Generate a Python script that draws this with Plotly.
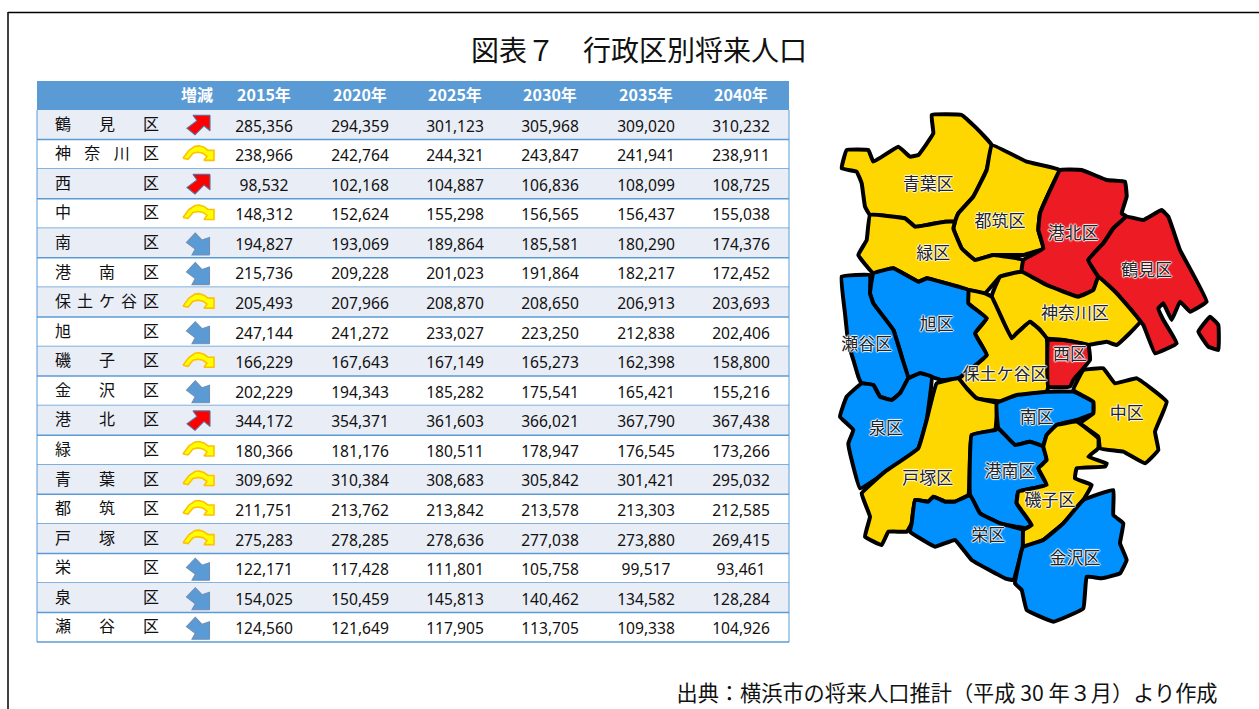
import plotly.graph_objects as go

# ---------- table data ----------
years = ["2015年", "2020年", "2025年", "2030年", "2035年", "2040年"]
wards = ["鶴見", "神奈川", "西", "中", "南", "港南", "保土ケ谷", "旭", "磯子", "金沢",
         "港北", "緑", "青葉", "都筑", "戸塚", "栄", "泉", "瀬谷"]
trend = ["up", "flat", "up", "flat", "down", "down", "flat", "down", "flat", "down",
         "up", "flat", "flat", "flat", "flat", "down", "down", "down"]
pop2015 = [285356, 238966, 98532, 148312, 194827, 215736, 205493, 247144, 166229, 202229,
           344172, 180366, 309692, 211751, 275283, 122171, 154025, 124560]
pop2020 = [294359, 242764, 102168, 152624, 193069, 209228, 207966, 241272, 167643, 194343,
           354371, 181176, 310384, 213762, 278285, 117428, 150459, 121649]
pop2025 = [301123, 244321, 104887, 155298, 189864, 201023, 208870, 233027, 167149, 185282,
           361603, 180511, 308683, 213842, 278636, 111801, 145813, 117905]
pop2030 = [305968, 243847, 106836, 156565, 185581, 191864, 208650, 223250, 165273, 175541,
           366021, 178947, 305842, 213578, 277038, 105758, 140462, 113705]
pop2035 = [309020, 241941, 108099, 156437, 180290, 182217, 206913, 212838, 162398, 165421,
           367790, 176545, 301421, 213303, 273880, 99517, 134582, 109338]
pop2040 = [310232, 238911, 108725, 155038, 174376, 172452, 203693, 202406, 158800, 155216,
           367438, 173266, 295032, 212585, 269415, 93461, 128284, 104926]
columns = [pop2015, pop2020, pop2025, pop2030, pop2035, pop2040]

# ---------- map data: outlines (map units) ----------
aoba = [(305,45),(395,45),(440,85),(485,135),(470,210),(430,290),(385,340),(375,365),(345,365),(290,375),(255,380),(225,355),(120,345),(105,320),(95,250),(80,215),(35,205),(50,150),(115,150),(130,185),(205,140),(240,170),(265,165),(310,100)]
tsuzuki = [(485,135),(590,185),(690,210),(670,250),(630,340),(625,390),(640,445),(580,465),(490,465),(435,480),(395,445),(370,385),(375,365),(385,340),(430,290),(470,210)]
midori = [(120,345),(225,355),(255,380),(290,375),(345,365),(375,365),(370,385),(395,445),(435,480),(490,465),(580,480),(575,515),(510,530),(465,580),(415,570),(330,545),(290,535),(265,545),(190,505),(130,520),(85,465),(110,420)]
kohoku = [(690,210),(755,210),(830,240),(885,245),(890,290),(875,340),(890,350),(850,385),(820,430),(775,480),(805,530),(790,570),(745,590),(650,555),(575,515),(580,480),(640,445),(625,390),(630,340),(670,250)]
tsurumi = [(890,350),(940,360),(995,330),(1015,350),(1050,450),(1130,605),(1080,635),(1050,605),(1025,660),(1000,610),(985,625),(1000,660),(1040,730),(975,760),(940,675),(860,580),(805,530),(775,480),(820,430),(850,385)]
tsurumi_isle = [(1140,650),(1165,675),(1165,750),(1135,740),(1105,695)]
kanagawa = [(575,515),(650,555),(745,590),(790,570),(805,530),(860,580),(930,665),(860,735),(830,725),(775,735),(700,720),(650,715),(630,690),(600,665),(560,700),(545,715),(485,590),(510,530)]
hodogaya = [(415,570),(465,580),(485,590),(545,715),(560,700),(600,665),(630,690),(650,715),(655,860),(650,875),(520,905),(440,895),(410,865),(385,835),(470,765),(435,700),(470,655),(415,610)]
asahi = [(130,520),(190,505),(265,545),(290,535),(330,545),(415,570),(415,610),(470,655),(435,700),(470,765),(385,835),(335,840),(270,820),(235,835),(215,770),(190,690),(130,610),(120,580)]
seya = [(35,530),(120,525),(120,580),(130,610),(190,690),(215,770),(235,835),(210,880),(185,900),(150,890),(130,855),(95,850),(85,830),(70,780),(55,730),(45,640)]
izumi = [(95,850),(130,855),(150,890),(185,900),(210,880),(235,835),(270,820),(305,830),(290,960),(265,1045),(170,1115),(90,1165),(65,1080),(55,1030),(70,990),(30,950),(50,890)]
totsuka = [(320,850),(385,835),(410,865),(440,895),(500,910),(495,990),(425,1005),(415,1185),(375,1205),(345,1205),(310,1190),(295,1205),(255,1200),(245,1270),(230,1295),(175,1295),(155,1335),(105,1310),(120,1250),(95,1180),(165,1115),(265,1045),(290,960)]
minami = [(500,910),(560,885),(650,875),(730,875),(790,905),(790,940),(740,960),(680,975),(650,1005),(640,1040),(600,1025),(555,1035),(505,985)]
naka = [(730,870),(760,810),(820,805),(855,850),(920,835),(1010,905),(975,995),(985,1050),(945,1090),(880,1055),(810,1045),(805,1010),(750,970),(790,940),(790,905)]
nishi = [(655,720),(700,720),(775,735),(780,780),(730,840),(720,860),(655,860)]
isogo = [(650,1005),(680,975),(740,965),(805,1015),(805,1045),(775,1070),(830,1090),(825,1100),(740,1105),(735,1135),(785,1155),(760,1200),(700,1270),(640,1320),(580,1340),(580,1290),(605,1275),(560,1210),(565,1175),(650,1155),(625,1105),(650,1080),(640,1040)]
konan = [(505,985),(555,1035),(600,1025),(640,1040),(650,1080),(625,1105),(650,1155),(565,1175),(560,1210),(605,1275),(590,1285),(510,1270),(450,1240),(420,1185),(425,1005),(495,990)]
sakae = [(255,1200),(295,1205),(310,1190),(345,1205),(375,1205),(420,1185),(450,1240),(510,1270),(578,1290),(578,1340),(550,1440),(525,1435),(425,1380),(375,1320),(315,1340),(240,1295),(245,1270)]
kanazawa = [(580,1340),(640,1320),(700,1270),(760,1200),(850,1170),(850,1245),(880,1270),(870,1330),(890,1380),(870,1420),(815,1435),(770,1430),(760,1525),(670,1565),(590,1530),(575,1470),(555,1450),(575,1350)]

map_regions = [
    ("青葉区", aoba, "yellow"), ("都筑区", tsuzuki, "yellow"), ("緑区", midori, "yellow"),
    ("港北区", kohoku, "red"), ("鶴見区", tsurumi, "red"), ("鶴見区", tsurumi_isle, "red"),
    ("神奈川区", kanagawa, "yellow"), ("保土ケ谷区", hodogaya, "yellow"), ("旭区", asahi, "blue"),
    ("瀬谷区", seya, "blue"), ("泉区", izumi, "blue"), ("戸塚区", totsuka, "yellow"),
    ("南区", minami, "blue"), ("中区", naka, "yellow"), ("西区", nishi, "red"),
    ("港南区", konan, "blue"), ("栄区", sakae, "blue"), ("磯子区", isogo, "yellow"),
    ("金沢区", kanazawa, "blue"),
]
label_names = ["青葉区", "都筑区", "緑区", "港北区", "鶴見区", "神奈川区", "旭区", "瀬谷区", "西区",
               "保土ケ谷区", "南区", "中区", "泉区", "港南区", "戸塚区", "磯子区", "栄区", "金沢区"]
label_x = [295, 510, 310, 730, 950, 735, 320, 110, 720, 525, 620, 890, 168, 540, 293, 660, 475, 735]
label_y = [250, 362, 458, 398, 508, 637, 672, 732, 760, 820, 950, 938, 982, 1112, 1134, 1200, 1305, 1373]

# ---------- styles / layout constants ----------
MAP_COL = {"yellow": "#FFD700", "red": "#ED1C24", "blue": "#0091FF"}
JP = "Noto Sans CJK JP"
NUM = "Noto Sans"
W, H = 1259, 709
T_L, T_R, H_TOP, R_TOP, R_H = 37, 789, 81, 110, 29.56
YEAR_X = [264, 360, 455, 550, 646, 741]
TREND_X = 198
NAME_L, NAME_R = 63, 151

ARROW_UP = [(12,-10.5),(12,5),(6,0),(-3,9),(-11,2.5),(-1,-5),(-5,-10.5)]
ARROW_DOWN = [(11.5,11),(-6,11),(-2.7,5),(-11.5,-1.7),(-2.7,-11),(4,-4),(11.5,-6.5)]
ARROW_FLAT = [(-15,3),(-9,-5),(-3,-9),(1,-9.5),(6,-8),(10,-5),(16,-5),(16,5),(6,5),(9,1),(5,-2),(0,-3),(-5,-2),(-10,4)]
ARROW_STYLE = {"up": (ARROW_UP, "#FF0000", "#5B6F9E", 1.1),
               "flat": (ARROW_FLAT, "#FFFF00", "#FFC000", 1.6),
               "down": (ARROW_DOWN, "#5B9BD5", "#6F8FB8", 1.1)}

fig = go.Figure()
row_c = [R_TOP + R_H * (i + 0.5) for i in range(len(wards))]

# table grid
shapes = [dict(type="rect", xref="x", yref="y", x0=T_L, x1=T_R, y0=H_TOP, y1=R_TOP,
               fillcolor="#5B9BD5", line_width=0, layer="below")]
for i in range(len(wards)):
    y0, y1 = R_TOP + R_H * i, R_TOP + R_H * (i + 1)
    if i % 2 == 0:
        shapes.append(dict(type="rect", xref="x", yref="y", x0=T_L, x1=T_R, y0=y0, y1=y1,
                           fillcolor="#E9EDF6", line_width=0, layer="below"))
    shapes.append(dict(type="line", xref="x", yref="y", x0=T_L, x1=T_R, y0=y1, y1=y1,
                       line=dict(color="#5B9BD5", width=1.5), layer="below"))
for xv in (T_L, T_R):
    shapes.append(dict(type="line", xref="x", yref="y", x0=xv, x1=xv, y0=R_TOP, y1=R_TOP + R_H * len(wards),
                       line=dict(color="#5B9BD5", width=1), layer="below"))
# page frame
shapes.append(dict(type="line", xref="x", yref="y", x0=8, x1=W, y0=12.5, y1=12.5, line=dict(color="#000", width=1.5)))
shapes.append(dict(type="line", xref="x", yref="y", x0=8, x1=8, y0=12, y1=H, line=dict(color="#000", width=1.5)))


def text_trace(x, y, text, size, color="#111111", family=JP, xa="x", ya="y", **kw):
    return go.Scatter(x=x, y=y, text=text, mode="text", xaxis=xa, yaxis=ya, cliponaxis=False,
                      textposition="middle center", hoverinfo="skip", showlegend=False,
                      textfont=dict(size=size, color=color, family=family, **kw))


# header
fig.add_trace(text_trace([TREND_X - 1] + YEAR_X, [96.5] * 7, ["<b>増減</b>"] + [f"<b>{y}</b>" for y in years],
                         16, color="#FFFFFF"))
# ward names, spread across the first column
nx, ny, nt = [], [], []
for name, yc in zip(wards, row_c):
    chars = name + "区"
    step = (NAME_R - NAME_L) / (len(chars) - 1)
    for k, ch in enumerate(chars):
        nx.append(NAME_L + step * k)
        ny.append(yc + 1)
        nt.append(ch)
fig.add_trace(text_trace(nx, ny, nt, 16))
# numbers
for xc, vals in zip(YEAR_X, columns):
    fig.add_trace(text_trace([xc] * len(vals), [yc + 3 for yc in row_c], [f"{v:,}" for v in vals], 15.6, family=NUM))
# arrows
for key, (poly, fill, line, lw) in ARROW_STYLE.items():
    xs, ys = [], []
    for t, yc in zip(trend, row_c):
        if t == key:
            xs += [TREND_X + p[0] for p in poly] + [TREND_X + poly[0][0], None]
            ys += [yc + 1 + p[1] for p in poly] + [yc + 1 + poly[0][1], None]
    fig.add_trace(go.Scatter(x=xs, y=ys, mode="lines", fill="toself", fillcolor=fill,
                             line=dict(color=line, width=lw), hoverinfo="skip", showlegend=False))

# map
for name, pts, col in map_regions:
    xs = [p[0] for p in pts] + [pts[0][0]]
    ys = [p[1] for p in pts] + [pts[0][1]]
    fig.add_trace(go.Scatter(x=xs, y=ys, xaxis="x2", yaxis="y2", mode="lines", fill="toself",
                             fillcolor=MAP_COL[col], line=dict(color="#000", width=4, shape="spline", smoothing=0.25),
                             name=name, hoverinfo="name", showlegend=False))
halo = ",".join(f"{a}px {b}px 1px #fff" for a, b in [(1,0),(-1,0),(0,1),(0,-1)])
fig.add_trace(text_trace(label_x, [v + 6 for v in label_y], label_names, 17, color="#222222", xa="x2", ya="y2", shadow=halo))

# title and source
fig.add_trace(text_trace([639], [53.5], ["図表７　行政区別将来人口"], 28, color="#111111"))
fig.add_trace(text_trace([947], [696], ["出典：横浜市の将来人口推計（平成 30 年３月）より作成"], 21.2, color="#111111"))

fig.update_layout(
    width=W, height=H, margin=dict(l=0, r=0, t=0, b=0), paper_bgcolor="#FFFFFF", plot_bgcolor="rgba(0,0,0,0)",
    showlegend=False, shapes=shapes,
    xaxis=dict(range=[0, W], domain=[0, 1], visible=False, fixedrange=True),
    yaxis=dict(range=[H, 0], domain=[0, 1], visible=False, fixedrange=True),
    xaxis2=dict(range=[0, (W - 830) * 3], domain=[830 / W, 1], visible=False, fixedrange=True, anchor="y2"),
    yaxis2=dict(range=[(H - 100) * 3, 0], domain=[0, (H - 100) / H], visible=False, fixedrange=True, anchor="x2"),
)
fig.write_html("out.html", config={"displayModeBar": False},
               post_script="document.body.style.margin='0';document.body.style.overflow='hidden';")
